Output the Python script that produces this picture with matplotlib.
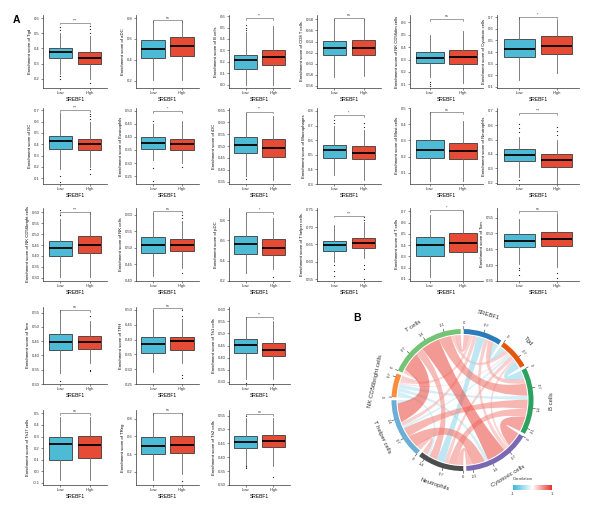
import numpy as np
import matplotlib.pyplot as plt
from matplotlib.path import Path
from matplotlib.patches import PathPatch, Wedge
from matplotlib.colors import LinearSegmentedColormap

plt.rcParams["font.family"] = ["Liberation Sans", "DejaVu Sans"]

# --------------------------------------------------
# Panel A data (box stats: whislo, q1, median, q3, whishi)
# --------------------------------------------------

cells = [
    "Tgd", "aDC", "B cells", "CD8 T cells", "NK CD56dim cells", "Cytotoxic cells",
    "DC", "Eosinophils", "iDC", "Macrophages", "Mast cells", "Neutrophils",
    "NK CD56bright cells", "NK cells", "pDC", "T helper cells", "T cells", "Tcm",
    "Tem", "TFH", "Th1 cells",
    "Th17 cells", "TReg", "Th2 cells",
]

signif = [
    "***", "ns", "**", "ns", "ns", "*",
    "***", "*", "**", "*", "ns", "***",
    "***", "ns", "*", "***", "*", "ns",
    "ns", "ns", "**",
    "ns", "ns", "ns",
]

low_box = [
    [0.235, 0.34, 0.378, 0.404, 0.50],
    [0.21, 0.42, 0.50, 0.593, 0.77],
    [0.0, 0.14, 0.215, 0.26, 0.46],
    [0.575, 0.615, 0.628, 0.641, 0.68],
    [0.16, 0.27, 0.31, 0.36, 0.50],
    [0.16, 0.36, 0.43, 0.51, 0.70],
    [0.18, 0.36, 0.43, 0.47, 0.68],
    [0.31, 0.355, 0.378, 0.40, 0.45],
    [0.375, 0.47, 0.505, 0.54, 0.64],
    [0.36, 0.48, 0.53, 0.57, 0.70],
    [0.05, 0.19, 0.24, 0.305, 0.475],
    [0.24, 0.35, 0.395, 0.435, 0.52],
    [0.305, 0.40, 0.435, 0.47, 0.57],
    [0.415, 0.483, 0.507, 0.533, 0.605],
    [0.28, 0.47, 0.56, 0.647, 0.87],
    [0.60, 0.631, 0.649, 0.66, 0.705],
    [0.12, 0.305, 0.40, 0.47, 0.67],
    [0.405, 0.457, 0.477, 0.497, 0.545],
    [0.338, 0.418, 0.448, 0.476, 0.56],
    [0.29, 0.355, 0.385, 0.41, 0.50],
    [0.31, 0.418, 0.452, 0.478, 0.57],
    [-0.08, 0.10, 0.235, 0.295, 0.47],
    [0.11, 0.40, 0.49, 0.595, 0.865],
    [0.36, 0.435, 0.455, 0.477, 0.54],
]

high_box = [
    [0.20, 0.30, 0.34, 0.378, 0.48],
    [0.21, 0.44, 0.53, 0.62, 0.77],
    [0.0, 0.17, 0.24, 0.30, 0.51],
    [0.577, 0.615, 0.628, 0.643, 0.68],
    [0.11, 0.26, 0.32, 0.38, 0.53],
    [0.22, 0.38, 0.45, 0.54, 0.68],
    [0.20, 0.35, 0.40, 0.45, 0.60],
    [0.30, 0.35, 0.372, 0.39, 0.46],
    [0.355, 0.455, 0.49, 0.53, 0.625],
    [0.33, 0.47, 0.515, 0.56, 0.67],
    [0.05, 0.185, 0.235, 0.285, 0.42],
    [0.20, 0.31, 0.355, 0.40, 0.50],
    [0.305, 0.415, 0.45, 0.49, 0.60],
    [0.44, 0.49, 0.508, 0.528, 0.58],
    [0.32, 0.46, 0.53, 0.61, 0.82],
    [0.61, 0.64, 0.654, 0.668, 0.715],
    [0.09, 0.335, 0.42, 0.505, 0.70],
    [0.395, 0.46, 0.482, 0.504, 0.56],
    [0.373, 0.423, 0.448, 0.468, 0.52],
    [0.32, 0.365, 0.394, 0.41, 0.47],
    [0.31, 0.405, 0.432, 0.46, 0.55],
    [-0.08, 0.11, 0.225, 0.305, 0.47],
    [0.175, 0.41, 0.50, 0.605, 0.865],
    [0.37, 0.437, 0.458, 0.48, 0.54],
]

low_out = [
    [0.52, 0.54, 0.22, 0.20], [], [0.48, 0.50, 0.52], [], [0.12, 0.10, 0.09], [],
    [0.12, 0.07], [0.46, 0.28, 0.23], [0.36], [0.72, 0.74], [], [0.55, 0.58, 0.61, 0.22],
    [0.59, 0.61], [], [], [0.56, 0.575, 0.59], [], [0.37, 0.385, 0.39],
    [0.31], [], [0.295],
    [], [], [0.55, 0.36, 0.37],
]

high_out = [
    [0.50, 0.53, 0.55, 0.17], [], [], [], [], [],
    [0.62, 0.65, 0.67, 0.18, 0.14], [0.285], [], [0.69, 0.72], [], [0.53, 0.56, 0.59],
    [], [0.59, 0.60, 0.425], [0.24], [0.72, 0.73, 0.55, 0.58, 0.59], [], [0.36, 0.375],
    [0.54, 0.345, 0.35], [0.48, 0.50, 0.27, 0.28], [0.29],
    [], [0.09], [0.33],
]

bracket_y = [
    0.57, 0.78, 0.58, 0.683, 0.63, 0.70,
    0.70, 0.50, 0.645, 0.77, 0.475, 0.685,
    0.60, 0.61, 0.88, 0.733, 0.71, 0.57,
    0.56, 0.505, 0.57,
    0.505, 0.87, 0.555,
]

y_limits = [
    (0.14, 0.62), (0.13, 0.83), (-0.03, 0.61), (0.556, 0.688), (0.07, 0.66), (0.09, 0.72),
    (0.05, 0.72), (0.22, 0.51), (0.34, 0.66), (0.30, 0.82), (0.03, 0.50), (0.19, 0.72),
    (0.285, 0.62), (0.40, 0.62), (0.20, 0.92), (0.545, 0.755), (0.08, 0.73), (0.35, 0.58),
    (0.30, 0.57), (0.25, 0.51), (0.29, 0.61),
    (-0.12, 0.53), (0.05, 0.90), (0.30, 0.57),
]

y_ticks = [
    (0.2, 0.6, 0.1), (0.2, 0.8, 0.2), (0.0, 0.6, 0.1), (0.56, 0.68, 0.02), (0.1, 0.6, 0.1), (0.1, 0.7, 0.1),
    (0.1, 0.7, 0.1), (0.25, 0.50, 0.05), (0.35, 0.65, 0.05), (0.3, 0.8, 0.1), (0.1, 0.5, 0.1), (0.2, 0.7, 0.1),
    (0.30, 0.60, 0.05), (0.40, 0.60, 0.05), (0.2, 0.8, 0.2), (0.55, 0.75, 0.05), (0.1, 0.7, 0.1), (0.35, 0.55, 0.05),
    (0.30, 0.55, 0.05), (0.25, 0.50, 0.05), (0.30, 0.60, 0.05),
    (-0.1, 0.5, 0.1), (0.2, 0.8, 0.2), (0.30, 0.55, 0.05),
]

groups = ["Low", "High"]
group_colors = ["#4DBBD5", "#E64B35"]

# --------------------------------------------------
# Panel B data (chord diagram)
# --------------------------------------------------

sectors = ["SREBF1", "Tgd", "B cells", "Cytotoxic cells", "Neutrophils",
           "T helper cells", "NK CD56bright cells", "T cells"]
sector_colors = ["#2B7BBA", "#E6550D", "#2CA25F", "#7B68B5", "#4D4D4D",
                 "#6BAED6", "#FD8D3C", "#74C476"]

link_from = [0, 0, 0, 0, 0, 0, 0, 1, 1, 1, 1, 1, 1, 2, 2, 2, 2, 2, 3, 3, 3, 3, 4, 4, 4, 5, 5, 6]
link_to = [1, 2, 3, 4, 5, 6, 7, 2, 3, 4, 5, 6, 7, 3, 4, 5, 6, 7, 4, 5, 6, 7, 5, 6, 7, 6, 7, 7]
link_r = [-0.2, 0.2, 0.15, -0.3, 0.15, 0.12, 0.22,
          -0.3, 0.1, 0.15, -0.1, 0.05, 0.15,
          0.55, 0.3, 0.35, -0.15, 0.45,
          0.25, 0.45, -0.13, 0.7,
          0.2, -0.1, 0.3,
          -0.12, 0.7,
          0.15]

tick_step = 0.7

# --------------------------------------------------
# Figure
# --------------------------------------------------

W, H = 600, 520
fig = plt.figure(figsize=(W / 100, H / 100), dpi=100)


def px_axes(x0, y0, x1, y1):
    return fig.add_axes([x0 / W, 1 - y1 / H, (x1 - x0) / W, (y1 - y0) / H])


row_top = [15, 108, 208, 307, 410]
row_bot = [88, 184, 281, 384, 485]
col_left = [43, 136, 229, 317, 410, 497]
col_right = [107, 199, 290, 381, 483, 579]

for p, cell in enumerate(cells):
    if p < 18:
        row, col = p // 6, p % 6
    else:
        row, col = 3 + (p - 18) // 3, (p - 18) % 3

    ax = px_axes(col_left[col], row_top[row], col_right[col], row_bot[row])

    stats = []
    for box, out in ((low_box[p], low_out[p]), (high_box[p], high_out[p])):
        stats.append({
            "whislo": box[0], "q1": box[1], "med": box[2],
            "q3": box[3], "whishi": box[4], "fliers": out,
        })

    res = ax.bxp(
        stats,
        positions=[1, 2],
        widths=0.82,
        patch_artist=True,
        showcaps=False,
        boxprops=dict(edgecolor="#3a3a3a", linewidth=0.6),
        whiskerprops=dict(color="#6a6a6a", linewidth=0.6),
        medianprops=dict(color="black", linewidth=1.3),
        flierprops=dict(marker="o", markersize=0.9, markerfacecolor="#222222",
                        markeredgecolor="none"),
    )
    for patch, c in zip(res["boxes"], group_colors):
        patch.set_facecolor(c)

    # significance bracket
    lo, hi = y_limits[p]
    yb = bracket_y[p]
    d = (hi - lo) * 0.025
    ax.plot([1, 1, 2, 2], [yb - d, yb, yb, yb - d], color="#555555", lw=0.4)
    ax.text(1.5, yb + d * 0.2, signif[p], ha="center", va="bottom", fontsize=2.6,
            color="#333333")

    t0, t1, st = y_ticks[p]
    ticks = np.arange(t0, t1 + st / 2, st)
    dec = 2 if round(st * 100) % 10 else 1
    ax.set_yticks(ticks)
    ax.set_yticklabels([f"{t:.{dec}f}" for t in ticks])
    ax.set_ylim(lo, hi)
    ax.set_xlim(0.4, 2.6)
    ax.set_xticks([1, 2])
    ax.set_xticklabels(groups)

    ax.tick_params(labelsize=3, length=1.5, width=0.4, pad=1, colors="#333333")
    ax.set_ylabel(f"Enrichment score of {cell}", fontsize=3.1, labelpad=1.5)
    ax.set_xlabel("SREBF1", fontsize=3.6, labelpad=1)

    for s in ("top", "right"):
        ax.spines[s].set_visible(False)
    for s in ("left", "bottom"):
        ax.spines[s].set_linewidth(0.5)
        ax.spines[s].set_color("#333333")

fig.text(13 / W, 1 - 20 / H, "A", fontsize=7.5, fontweight="bold", va="center")
fig.text(353 / W, 1 - 318 / H, "B", fontsize=7.5, fontweight="bold", va="center")

# --------------------------------------------------
# Chord diagram
# --------------------------------------------------

cx, cy, R = 462.5, 400, 71.0
ax_c = px_axes(322, 300, 600, 520)
ax_c.set_xlim((322 - cx) / R, (600 - cx) / R)
ax_c.set_ylim((cy - 520) / R, (cy - 300) / R)
ax_c.axis("off")

cmap = LinearSegmentedColormap.from_list("corr", ["#3FB8DA", "#FFFFFF", "#E8352B"])

n = len(sectors)
totals = np.zeros(n)
for a, b, r in zip(link_from, link_to, link_r):
    totals[a] += abs(r)
    totals[b] += abs(r)

gap = 2.5
deg_per = (360 - n * gap) / totals.sum()

sec_start = np.zeros(n)
sec_end = np.zeros(n)
angle = 89.0
for i in range(n):
    sec_start[i] = angle
    sec_end[i] = angle - totals[i] * deg_per
    angle = sec_end[i] - gap


def tangent_rot(theta):
    t = (theta + 180) % 360 - 180
    return t - 90 if t > 0 else t + 90


def pol(theta, r):
    t = np.deg2rad(theta)
    return np.array([r * np.cos(t), r * np.sin(t)])


# track + ticks + labels
r_in, r_out = 0.93, 1.0
for i in range(n):
    ax_c.add_patch(Wedge((0, 0), r_out, sec_end[i], sec_start[i], width=r_out - r_in,
                         facecolor=sector_colors[i], edgecolor="none"))
    v = 0.0
    while v <= totals[i] + 1e-9:
        th = sec_start[i] - v * deg_per
        p0, p1 = pol(th, r_out), pol(th, r_out + 0.035)
        ax_c.plot([p0[0], p1[0]], [p0[1], p1[1]], color="#333333", lw=0.4)
        lp = pol(th, 1.09)
        lab = "0" if v == 0 else f"{v:.1f}"
        ax_c.text(lp[0], lp[1], lab, fontsize=3, ha="center", va="center",
                  rotation=tangent_rot(th), rotation_mode="anchor", color="#333333")
        v = round(v + tick_step, 2)
    mid = (sec_start[i] + sec_end[i]) / 2
    np_ = pol(mid, 1.25)
    ax_c.text(np_[0], np_[1], sectors[i], fontsize=4.3, ha="center", va="center",
              rotation=tangent_rot(mid), rotation_mode="anchor", color="#333333")

# allocate link ends within sectors
ends = {}
for i in range(n):
    items = []
    for li, (a, b) in enumerate(zip(link_from, link_to)):
        if a == i:
            items.append(((b - i) % n, li))
        elif b == i:
            items.append(((a - i) % n, li))
    items.sort(key=lambda t: -t[0])
    pos = sec_start[i]
    for _, li in items:
        w = abs(link_r[li]) * deg_per
        ends[(i, li)] = (pos, pos - w)
        pos -= w

r0 = 0.915


def arc(t1, t2, m=24):
    ts = np.deg2rad(np.linspace(t1, t2, m))
    return np.column_stack([r0 * np.cos(ts), r0 * np.sin(ts)])


def ctrl(pa, pb):
    f = max(0.0, 1 - np.linalg.norm(pa - pb) / (2 * r0)) * 0.55
    return (pa + pb) / 2 * f


order = np.argsort(np.abs(link_r))
for li in order:
    a, b, r = link_from[li], link_to[li], link_r[li]
    a1, a2 = ends[(a, li)]
    b1, b2 = ends[(b, li)]
    arc_a = arc(a1, a2)
    arc_b = arc(b1, b2)
    verts = list(arc_a)
    codes = [Path.MOVETO] + [Path.LINETO] * (len(arc_a) - 1)
    verts += [ctrl(arc_a[-1], arc_b[0]), arc_b[0]]
    codes += [Path.CURVE3, Path.CURVE3]
    verts += list(arc_b[1:])
    codes += [Path.LINETO] * (len(arc_b) - 1)
    verts += [ctrl(arc_b[-1], arc_a[0]), arc_a[0], arc_a[0]]
    codes += [Path.CURVE3, Path.CURVE3, Path.CLOSEPOLY]
    col = cmap(0.5 + 0.5 * np.sign(r) * abs(r) ** 0.5)
    ax_c.add_patch(PathPatch(Path(verts, codes), facecolor=col, edgecolor="none",
                             alpha=0.6))

# legend
ax_l = px_axes(513, 485, 552, 490)
ax_l.imshow(np.linspace(-1, 1, 100)[None, :], cmap=cmap, aspect="auto",
            extent=(-1, 1, 0, 1))
ax_l.axis("off")
fig.text(513 / W, 1 - 481 / H, "Correlation", fontsize=3, va="bottom", color="#333333")
fig.text(513 / W, 1 - 492 / H, "-1", fontsize=3, va="top", ha="center", color="#333333")
fig.text(552 / W, 1 - 492 / H, "1", fontsize=3, va="top", ha="center", color="#333333")

fig.savefig("out.png", dpi=100)
